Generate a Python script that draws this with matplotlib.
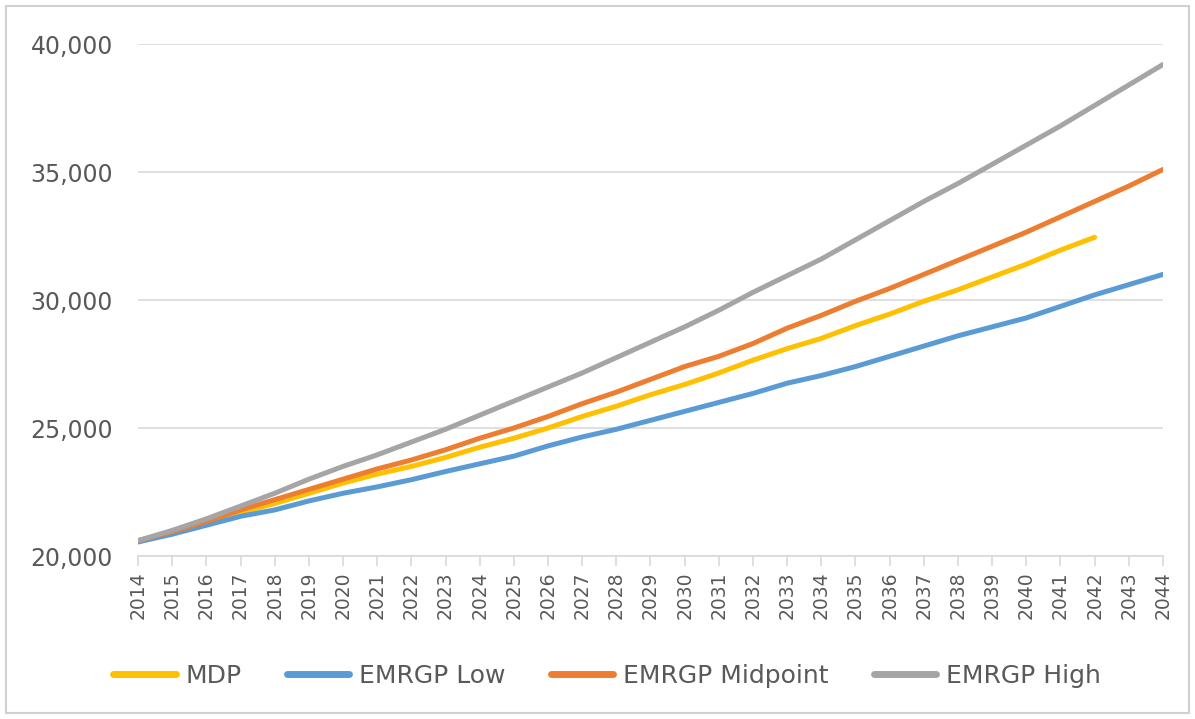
import matplotlib.pyplot as plt
from matplotlib.ticker import FuncFormatter
from matplotlib.patches import Rectangle
import numpy as np

years = np.arange(2014, 2045)

# forecast series, one value per year (nan = no data)
mdp = [20550, 20900, 21300, 21700, 22050, 22450, 22850, 23200, 23500, 23850,
       24250, 24600, 25000, 25450, 25850, 26300, 26700, 27150, 27650, 28100,
       28500, 29000, 29450, 29950, 30400, 30900, 31400, 31950, 32450,
       np.nan, np.nan]
emrgp_low = [20550, 20850, 21200, 21550, 21800, 22150, 22450, 22700, 22980, 23300,
             23600, 23900, 24300, 24650, 24950, 25300, 25650, 26000, 26350, 26750,
             27050, 27400, 27800, 28200, 28600, 28950, 29300, 29750, 30200, 30600,
             31000]
emrgp_mid = [20600, 20950, 21350, 21800, 22200, 22600, 23000, 23400, 23750, 24150,
             24600, 25000, 25450, 25950, 26400, 26900, 27400, 27800, 28300, 28900,
             29400, 29950, 30450, 31000, 31550, 32100, 32650, 33250, 33850, 34450,
             35100]
emrgp_high = [20600, 21000, 21450, 21950, 22450, 23000, 23500, 23950, 24450, 24950,
              25500, 26050, 26600, 27150, 27750, 28350, 28950, 29600, 30300, 30950,
              31600, 32350, 33100, 33850, 34550, 35300, 36050, 36800, 37600, 38400,
              39200]

series = {
    'MDP': (mdp, '#FFC000'),
    'EMRGP Low': (emrgp_low, '#5B9BD5'),
    'EMRGP Midpoint': (emrgp_mid, '#ED7D31'),
    'EMRGP High': (emrgp_high, '#A5A5A5'),
}

fig = plt.figure(figsize=(11.95, 7.19), dpi=100)
ax = fig.add_axes([0.1155, 0.2267, 0.8577, 0.7121])

for name, (vals, color) in series.items():
    ax.plot(years, vals, color=color, lw=3.6, label=name, solid_capstyle='round')

ax.set_xlim(2014, 2044)
ax.set_ylim(20000, 40000)
ax.set_yticks([20000, 25000, 30000, 35000, 40000])
ax.yaxis.set_major_formatter(FuncFormatter(lambda v, p: f'{int(v):,}'))
ax.set_xticks(years)
ax.set_xticklabels([str(y) for y in years], rotation=90)

ax.grid(axis='y', color='#D9D9D9', lw=1.2)
ax.set_axisbelow(True)
for s in ['top', 'right', 'left']:
    ax.spines[s].set_visible(False)
ax.spines['bottom'].set_color('#D9D9D9')
ax.spines['bottom'].set_linewidth(1.2)
ax.tick_params(axis='y', length=0, labelsize=17, labelcolor='#595959', pad=18)
ax.tick_params(axis='x', length=7, color='#D9D9D9', width=1.2,
               labelsize=13.5, labelcolor='#595959', pad=4)

# chart area border
fig.patches.append(Rectangle((0.005, 0.008), 0.99, 0.983, transform=fig.transFigure,
                             fill=False, edgecolor='#D0D0D0', lw=1.5))

leg = fig.legend(loc='center', bbox_to_anchor=(0.508, 0.06), ncol=4, frameon=False,
                 handlelength=2.5, handletextpad=0.4, columnspacing=1.8,
                 prop={'size': 18})
for t in leg.get_texts():
    t.set_color('#595959')
for h in leg.legend_handles:
    h.set_linewidth(5)

fig.savefig('out.png', dpi=100)
